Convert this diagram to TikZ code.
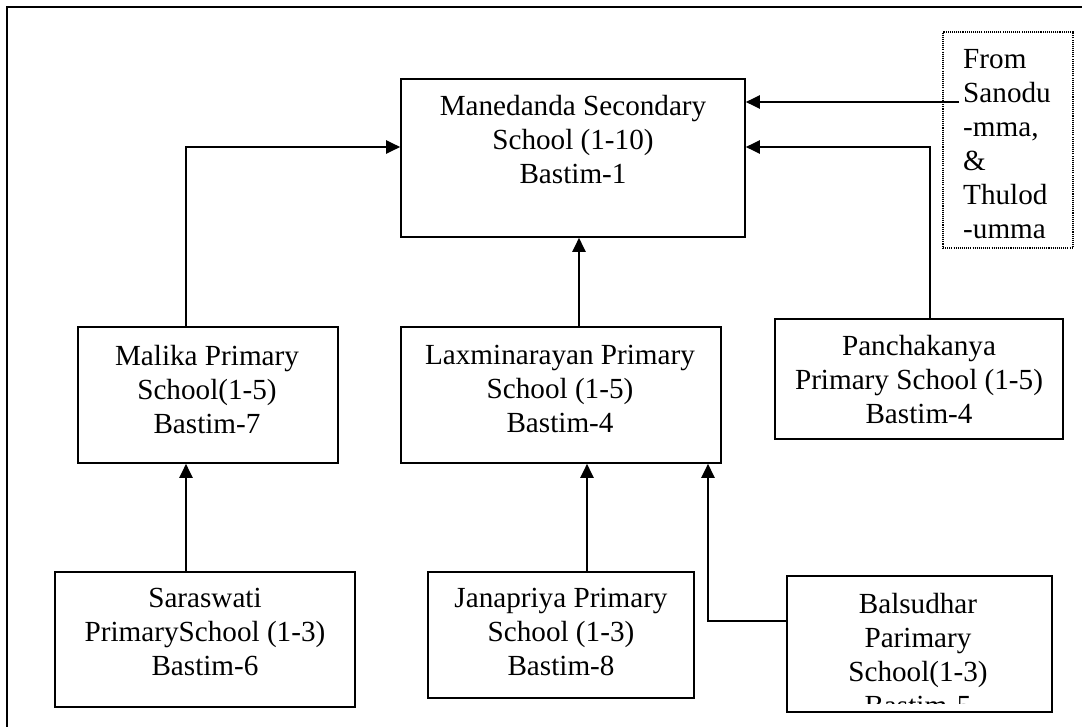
\documentclass[tikz,border=0pt]{standalone}
\usepackage{fontspec}
\setmainfont{Liberation Serif}
\usetikzlibrary{calc,arrows.meta}

\begin{document}
\begin{tikzpicture}[x=0.03cm,y=-0.03cm]
                      \tikzstyle{school}=[draw,line width=1.5pt,inner sep=0pt]
                      \tikzstyle{words}=[font=\fontsize{24.9pt}{29pt}\selectfont,align=center,inner sep=0pt,anchor=north]
                      \tikzstyle{link}=[line width=1.3pt,-{Triangle[length=0.42cm,width=0.4cm]}]
                      \useasboundingbox (0,0) rectangle (1082,727);
                      \draw[line width=1.8pt] (7,727) -- (7,7) -- (1082,7);
                      \node[school,minimum width=10.32cm,minimum height=4.74cm] (mane) at (573,158) {};
                      \node[school,minimum width=7.8cm,minimum height=4.08cm] (malika) at (208,395) {};
                      \node[school,minimum width=9.6cm,minimum height=4.08cm] (lax) at (561,395) {};
                      \node[school,minimum width=8.64cm,minimum height=3.6cm] (panch) at (919,379) {};
                      \node[school,minimum width=9cm,minimum height=4.05cm] (sara) at (205,639.5) {};
                      \node[school,minimum width=7.98cm,minimum height=3.78cm] (jana) at (561,635) {};
                      \node[school,minimum width=7.95cm,minimum height=4.08cm] (bals) at (919.5,644) {};
                      \node[draw,line width=0.9pt,dash pattern=on 0.9pt off 0.9pt,minimum width=3.9cm,minimum height=6.48cm] (from) at (1008,140) {};
                      \node[words] (mane-t) at (573,95) {Manedanda Secondary\\School (1-10)\\Bastim-1};
                      \node[words] (malika-t) at (207,345) {Malika Primary\\School(1-5)\\Bastim-7};
                      \node[words] (lax-t) at (560,345) {Laxminarayan Primary\\School (1-5)\\Bastim-4};
                      \node[words] (panch-t) at (919,335) {Panchakanya\\Primary School (1-5)\\Bastim-4};
                      \node[words] (sara-t) at (205,588) {Saraswati\\PrimarySchool (1-3)\\Bastim-6};
                      \node[words] (jana-t) at (561,588) {Janapriya Primary\\School (1-3)\\Bastim-8};
                      \begin{scope}
                      \clip (787,576) rectangle (1052,703);
                      \node[words] (bals-t) at (918,593) {Balsudhar\\Parimary\\School(1-3)\\Bastim-5};
                      \end{scope}
                      \node[words,anchor=north west,align=left] (from-t) at (963,49) {From\\Sanodu\\-mma,\\\&\\Thulod\\-umma};
                      \coordinate (from-in) at (959,102);
                      \draw[link] (from-in) -- (mane.east |- from-in);
                      \draw[link] ([xshift=0.33cm]panch.north) |- ([yshift=0.33cm]mane.east);
                      \draw[link] ([xshift=-0.66cm]malika.north) |- ([yshift=0.33cm]mane.west);
                      \draw[link] ([xshift=0.54cm]lax.north) -- ([xshift=0.54cm]lax.north |- mane.south);
                      \draw[link] ([xshift=-0.57cm]sara.north) -- ([xshift=-0.57cm]sara.north |- malika.south);
                      \draw[link] ([xshift=0.78cm]jana.north) -- ([xshift=0.78cm]jana.north |- lax.south);
                      \draw[link] ([yshift=0.69cm]bals.west) -| ([xshift=4.41cm]lax.south);
                  \end{tikzpicture}
\end{document}
